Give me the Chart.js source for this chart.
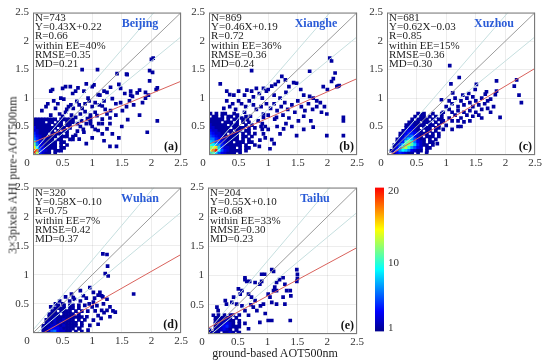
<!DOCTYPE html>
<html>
<head>
<meta charset="utf-8">
<script src="https://cdn.jsdelivr.net/npm/chart.js@4.4.1/dist/chart.umd.min.js"></script>
<style>
  body { margin: 0; background: #fff; width: 550px; height: 363px; position: relative; overflow: hidden; font-family: "Liberation Serif", serif; color: #222; }
  canvas { position: absolute; }
  .title { position: absolute; white-space: nowrap; font-size: 12px; }
</style>
</head>
<body>
<canvas id="pa"></canvas>
<canvas id="pb"></canvas>
<canvas id="pc"></canvas>
<canvas id="pd"></canvas>
<canvas id="pe"></canvas>
<canvas id="cbar"></canvas>
<div class="title" style="left:13px;top:175px;transform:translate(-50%,-50%) rotate(-90deg)">3×3pixels AHI pure-AOT500nm</div>
<div class="title" style="left:275px;top:353px;transform:translate(-50%,-50%)">ground-based AOT500nm</div>
<script>
// ---- data ----
const sites = ['Beijing', 'Xianghe', 'Xuzhou', 'Wuhan', 'Taihu'];
const tags = ['(a)', '(b)', '(c)', '(d)', '(e)'];
const nVals = [743, 869, 681, 320, 204];
const slopes = [0.43, 0.46, 0.62, 0.58, 0.55];
const intercepts = [0.22, 0.19, -0.03, -0.10, 0.10];
const rVals = ['0.66', '0.72', '0.85', '0.75', '0.68'];
const eeVals = [40, 36, 15, 7, 33];
const rmseVals = ['0.35', '0.36', '0.36', '0.42', '0.30'];
const mdVals = ['0.21', '0.24', '0.30', '0.37', '0.23'];
const axisTicks = [0, 0.5, 1, 1.5, 2, 2.5];
const cbarTicks = [1, 10, 20];
const CB_MIN = 0.5, CB_MAX = 20.5;
const EE_UP = [1.2, 0.05];   // upper expected-error envelope: slope, offset
const EE_LO = [0.85, -0.05]; // lower envelope

// dense cells: rows top -> bottom, columns from x=0.025 in 0.05 bins, char = count (base 36)
const GRID_X0 = 0.025, GRID_Y0 = 0.025, GRID_STEP = 0.05;
const gridA = [
  '11111111.11111',
  '1111.11.11.111',
  '111111.111.11.',
  '31111111.11.1.',
  '2211111.1.11..',
  '42111.1111.1..',
  '53211111.111.1',
  '6421111.11..11',
  'a5321111.11...',
  'c6321111.1.1..',
  'f9431111.11...',
  'ji5321.111....',
  'kd4211.1......'
];
const gridB = [
  '1.1.11..1.......',
  '.11.1.11.1..1...',
  '11111.1.11.1....',
  '1111.111.1.1.1..',
  '211111.111..1.1.',
  '2211111.1111.1.1',
  '32211111.11.11..',
  '432211.111.1.1.1',
  '5432211111.11.1.',
  '6643221111.1.1..',
  '87543211.111.11.',
  'a9764211111.1..1',
  'cdf842211.1.11..',
  'ehk95321111.1...',
  '9b8532111.1.....'
];
const gridC = [
  '..........1.1..1..1..',
  '.........1.11.1.1.1..',
  '........1.1111.1.11..',
  '.......1111.111.1.1..',
  '......1121111.11.1...',
  '......12221.111.11...',
  '.....1233211.11.1....',
  '....1134432111.1.1...',
  '....12456321.111.1...',
  '...1236875211.1.1....',
  '...124aca6321.11.....',
  '..1258cdb84211.1.....',
  '..136bda7532.11......',
  '.12479863211.1.......',
  '..1343211.1..........'
];
const gridD = [
  '........1.1.11.1.1.',
  '.......1111.11.1...',
  '......11.1111.1.1.1',
  '.....1111.1111.1...',
  '.....111111111111..',
  '....1112112111.1.1.',
  '....12121211111.1..',
  '...111222121111.1..',
  '...11233321111.1...',
  '...1125632211.1.1..'
];
const gridE = [
  '...1.1.11.1.',
  '..111111.1..',
  '..1111211.1.',
  '..1112321.1.',
  '..112342111.',
  '1.112321.1..',
  '1111.1121.1.'
];

// single points (count 1)
const sparseA = [
  [0.83,1.50],[1.09,1.50],[2.00,1.68],[2.03,1.70],[2.02,1.45],[1.97,1.30],[1.58,1.42],[2.10,1.18],[2.08,1.15],[1.97,1.48],
  [0.30,1.12],[0.33,1.15],[0.50,1.17],[0.55,1.20],[0.63,1.20],[0.67,1.08],[0.72,1.12],[1.00,1.20],[0.86,1.12],[1.31,1.19],
  [1.45,1.24],[1.59,1.41],[1.10,1.06],[1.13,1.05],[1.48,1.17],[1.65,1.05],[1.68,1.03],[1.65,1.12],[1.76,1.09],[1.95,1.05],
  [1.80,1.14],[1.34,0.99],[0.47,1.00],[0.52,0.98],[0.93,1.00],[1.25,1.10],[1.55,1.08],[1.90,1.10],[1.03,1.23],[0.76,1.18],
  [1.42,1.43],[1.20,1.12],[0.90,1.25],
  [0.22,0.85],[0.25,0.90],[0.38,0.82],[0.42,0.90],[0.57,0.80],[0.60,0.85],[0.64,0.88],[0.68,0.82],[0.74,0.94],[0.78,0.88],
  [0.83,0.82],[0.88,0.90],[0.95,0.95],[1.00,0.85],[1.05,0.92],[1.12,0.88],[1.17,0.86],[1.22,0.80],[1.31,0.78],[1.40,0.90],
  [1.48,0.92],[1.51,0.78],[1.58,0.85],[1.63,0.95],[1.70,0.88],[1.85,0.92],[1.90,1.00],[1.20,0.95],[0.45,0.72],[0.50,0.68],
  [0.55,0.75],[0.65,0.70],[0.72,0.66],[0.80,0.72],[0.97,0.70],[0.97,0.66],[0.97,0.62],[1.08,0.69],[1.17,0.63],[1.30,0.65],
  [1.40,0.70],[1.60,0.62],[1.80,0.70],[0.35,0.95],[0.15,0.78],[0.30,0.70],[0.88,0.76],[0.92,0.64],[1.05,0.75],[1.25,0.72],
  [0.75,0.55],[0.80,0.50],[0.85,0.45],[0.86,0.40],[0.90,0.55],[0.97,0.58],[0.97,0.55],[1.00,0.50],[1.05,0.45],[1.10,0.43],
  [1.11,0.55],[1.17,0.55],[1.17,0.37],[1.25,0.46],[1.34,0.37],[1.30,0.15],[1.41,0.15],[1.93,0.40],[2.10,0.60],[0.72,0.35],
  [0.78,0.28],[0.82,0.60],[1.20,0.25],[1.00,0.30],[0.90,0.20],[1.50,0.50],[1.45,0.30],[0.75,0.42],[1.30,0.55]
];
const sparseB = [
  [0.72,1.48],[0.19,1.25],[0.30,1.12],[0.35,1.06],[2.04,1.70],[2.07,1.65],[2.13,1.44],[2.10,1.34],[2.07,1.29],[2.18,1.21],
  [2.16,1.20],[1.70,1.47],[1.23,1.38],[1.29,1.32],[1.17,1.29],[1.12,1.24],[1.06,1.21],[1.00,1.15],[1.43,1.27],[1.48,1.26],
  [1.35,1.20],[0.64,1.14],[0.72,1.12],[0.80,1.17],[0.92,1.17],[0.97,1.12],[0.60,1.05],[0.75,1.02],[0.85,1.08],[0.90,1.00],
  [1.30,1.10],[1.55,1.15],[1.60,1.05],[1.70,1.03],[1.76,1.00],[1.82,0.95],[1.88,0.92],[1.95,0.85],[1.99,0.72],[1.93,1.20],
  [2.00,1.15],[2.20,1.22],[1.10,1.05],[0.50,1.12],[0.42,1.05],
  [0.50,0.95],[0.55,0.90],[0.62,0.85],[0.68,0.95],[0.75,0.88],[0.80,0.80],[0.88,0.85],[0.92,0.72],[0.97,0.90],[1.04,0.82],
  [1.10,0.90],[1.15,0.78],[1.22,0.85],[1.28,0.92],[1.33,0.80],[1.40,0.88],[1.45,0.75],[1.50,0.95],[1.56,0.85],[1.62,0.78],
  [1.68,0.90],[1.75,0.80],[1.82,0.85],[1.90,0.75],[1.11,0.63],[1.14,0.66],[0.83,0.60],[0.92,0.66],[1.00,0.70],[1.25,0.70],
  [1.35,0.65],[1.51,0.60],[1.60,0.68],[1.72,0.60],[2.27,0.60],[2.27,0.66],[0.45,0.80],[0.48,0.70],[0.60,0.75],[0.70,0.68],
  [0.35,0.85],[0.40,0.90],[0.25,0.82],[0.30,0.95],[1.20,1.00],[0.55,0.65],[0.65,0.62],
  [0.90,0.55],[0.95,0.50],[1.00,0.45],[0.92,0.37],[0.86,0.26],[1.20,0.37],[1.26,0.46],[1.06,0.27],[1.03,0.11],[1.48,0.34],
  [1.76,0.49],[1.99,0.34],[2.27,0.34],[1.30,0.55],[1.40,0.50],[1.15,0.50],[0.85,0.15],[0.90,0.45],[1.60,0.45],[1.10,0.20],
  [0.95,0.30],[0.88,0.50]
];
const sparseC = [
  [1.06,1.57],[1.22,1.36],[1.08,1.25],[1.11,1.09],[0.92,0.97],[1.85,1.30],[2.19,1.32],[2.15,1.21],[2.23,1.05],[2.27,0.92],
  [1.91,0.66],[1.83,1.06],[1.85,1.12],[1.66,1.07],[1.68,1.11],[1.49,1.15],[1.51,1.24],[0.59,0.71],
  [1.05,0.95],[1.10,0.90],[1.15,1.00],[1.20,0.85],[1.25,0.95],[1.30,0.88],[1.35,1.00],[1.40,0.92],[1.45,0.85],[1.50,0.95],
  [1.55,0.88],[1.60,0.80],[1.65,0.90],[1.70,0.82],[1.75,0.75],[1.80,0.85],[1.05,0.80],[1.10,0.75],[1.15,0.70],[1.20,0.78],
  [1.25,0.65],[1.30,0.75],[1.35,0.70],[1.40,0.78],[1.45,0.68],[1.50,0.75],[1.55,0.70],[1.60,0.65],[1.30,0.58],[1.20,0.60],
  [1.40,0.60],[1.00,0.85],[1.05,0.65],[0.95,0.75],[0.95,0.60],[1.10,0.60],[1.28,1.05],[1.38,1.08],[1.60,1.00],[1.70,0.95],
  [1.75,0.98],[1.45,1.02],[0.67,0.03],[1.10,0.45],[1.25,0.50],[0.85,0.20],[1.20,0.50],[1.00,0.52],[0.95,0.45]
];
const sparseD = [
  [1.18,1.36],[1.25,1.35],[1.26,1.15],[1.22,1.02],[1.27,0.98],[0.96,0.78],[1.02,0.70],[1.70,0.67],[1.39,0.36],[0.65,0.67],
  [0.68,0.61],[0.80,0.73],[0.85,0.64],[1.13,0.70],[1.16,0.64],[1.02,0.53],[1.08,0.47],[1.19,0.50],[1.25,0.39],[1.16,0.39],
  [0.91,0.28],[0.96,0.13],[0.79,0.08],[1.04,0.60],[1.10,0.65],[1.18,0.62],[0.62,0.55],[0.70,0.58],[0.80,0.55],[0.90,0.60],
  [0.95,0.50],[1.00,0.45],[1.05,0.38],[1.10,0.30],[1.15,0.25],[1.20,0.35],[1.30,0.28],[1.35,0.38],[1.02,0.22],[1.10,0.15],
  [0.55,0.62],[0.45,0.55],[0.50,0.50],[0.38,0.50],[0.30,0.45],[1.30,0.45],[1.25,0.58],[0.93,0.05]
];
const sparseE = [
  [1.07,1.10],[1.10,1.07],[0.90,1.02],[0.95,1.02],[0.62,0.93],[0.65,0.90],[0.79,0.88],[1.15,0.88],[1.20,0.93],[1.26,0.96],
  [1.49,1.10],[1.50,1.02],[1.50,0.95],[1.49,0.90],[1.12,0.80],[1.10,0.74],[1.15,0.74],[1.29,0.85],[1.32,0.74],[1.01,0.68],
  [1.04,0.63],[0.51,0.77],[0.57,0.74],[0.54,0.68],[0.68,0.68],[0.73,0.63],[0.43,0.63],[0.40,0.54],[0.48,0.51],[0.57,0.48],
  [0.79,0.57],[0.88,0.48],[0.93,0.51],[1.07,0.54],[1.15,0.51],[1.38,0.74],[1.39,0.65],[1.26,0.63],[1.29,0.51],[1.01,0.23],
  [1.07,0.23],[0.87,0.20],[1.38,0.23],[0.96,0.35],[0.76,0.46],[0.68,0.32],[0.15,0.46],[0.17,0.40],[0.09,0.32],[0.29,0.57],
  [0.31,0.51],[0.62,0.18],[0.68,0.09],[0.48,0.07],[0.51,0.02],[0.62,0.96],[0.70,0.90],[0.87,0.85],[0.90,0.90],[0.82,0.40],
  [0.62,0.40],[0.72,0.50]
];
const grids = [gridA, gridB, gridC, gridD, gridE];
const sparse = [sparseA, sparseB, sparseC, sparseD, sparseE];

// ---- layout ----
const FONT = '"Liberation Serif", "Times New Roman", serif';
const PAD_L = 30, PAD_T = 8, PAD_R = 12, PAD_B = 18;
const boxes = [
  { id: 'pa', l: 33, t: 10, w: 148, h: 145 },
  { id: 'pb', l: 209, t: 10, w: 148, h: 145 },
  { id: 'pc', l: 387, t: 10, w: 148, h: 145 },
  { id: 'pd', l: 33, t: 185, w: 148, h: 148 },
  { id: 'pe', l: 208, t: 185, w: 149, h: 149 }
];
const cbarBox = { l: 375, t: 185, w: 9, h: 149 };

// jet-like colormap ending at red
const CMAP = [[0, 0, 0, 140], [0.14, 0, 0, 255], [0.43, 0, 255, 255], [0.71, 255, 255, 0], [1, 255, 0, 0]];
function jet(v) {
  v = Math.max(0, Math.min(1, v));
  for (let i = 1; i < CMAP.length; i++) {
    if (v <= CMAP[i][0]) {
      const a = CMAP[i - 1], b = CMAP[i];
      const f = (v - a[0]) / (b[0] - a[0]);
      const c = [1, 2, 3].map(k => Math.round(a[k] + (b[k] - a[k]) * f));
      return `rgb(${c[0]},${c[1]},${c[2]})`;
    }
  }
  return 'rgb(255,0,0)';
}
const countColor = c => jet((c - CB_MIN) / (CB_MAX - CB_MIN));

function cellsFromGrid(rows) {
  const out = [];
  rows.forEach((row, r) => {
    const y = GRID_Y0 + GRID_STEP * (rows.length - 1 - r);
    [...row].forEach((ch, col) => {
      if (ch !== '.') out.push({ x: GRID_X0 + GRID_STEP * col, y, c: parseInt(ch, 36) });
    });
  });
  return out;
}

const axMax = axisTicks[axisTicks.length - 1];
const lineThrough = (m, b) => [{ x: 0, y: b }, { x: axMax, y: m * axMax + b }];
const fmt2 = v => v.toFixed(2);

// frame, stats text, site name and panel tag
const panelDecor = {
  id: 'panelDecor',
  afterDatasetsDraw(chart, args, opts) {
    const i = opts.index;
    const { ctx, chartArea: a } = chart;
    ctx.save();
    ctx.strokeStyle = '#7a7a7a';
    ctx.lineWidth = 1;
    ctx.strokeRect(a.left + 0.5, a.top + 0.5, a.right - a.left - 1, a.bottom - a.top - 1);

    const b = intercepts[i];
    const lines = [
      'N=' + nVals[i],
      'Y=' + fmt2(slopes[i]) + 'X' + (b < 0 ? '\u2212' : '+') + fmt2(Math.abs(b)),
      'R=' + rVals[i],
      'within EE=' + eeVals[i] + '%',
      'RMSE=' + rmseVals[i],
      'MD=' + mdVals[i]
    ];
    ctx.fillStyle = '#1e1e1e';
    ctx.font = '11px ' + FONT;
    ctx.textAlign = 'left';
    ctx.textBaseline = 'middle';
    lines.forEach((s, k) => ctx.fillText(s, a.left + 2, a.top + 5.5 + k * 9.2));

    ctx.font = 'bold 12px ' + FONT;
    ctx.fillStyle = '#2a5bd7';
    ctx.textAlign = 'center';
    ctx.fillText(sites[i], a.left + 107, a.top + 11);

    ctx.fillStyle = '#111';
    ctx.textAlign = 'right';
    ctx.fillText(tags[i], a.right - 3, a.bottom - 8);

    ctx.font = '11px ' + FONT;
    ctx.fillStyle = '#333';
    ctx.textAlign = 'center';
    ctx.fillText(String(axisTicks[0]), a.left - 6, a.bottom + 8.5);
    ctx.restore();
  }
};

function axisOpts(horizontal) {
  return {
    type: 'linear',
    min: axisTicks[0],
    max: axMax,
    afterBuildTicks: s => { s.ticks = axisTicks.map(v => ({ value: v })); },
    afterFit: s => { if (horizontal) s.height = PAD_B; else s.width = PAD_L; },
    ticks: {
      font: { family: FONT, size: 11 },
      color: '#333',
      padding: horizontal ? 2 : 4,
      maxRotation: 0,
      autoSkip: false,
      callback: v => (v === axisTicks[0] ? '' : String(v))
    },
    grid: { color: 'rgba(0,0,0,0.07)', drawTicks: false },
    border: { display: false }
  };
}

boxes.forEach((box, i) => {
  const canvas = document.getElementById(box.id);
  canvas.width = PAD_L + box.w + PAD_R;
  canvas.height = PAD_T + box.h + PAD_B;
  canvas.style.left = (box.l - PAD_L) + 'px';
  canvas.style.top = (box.t - PAD_T) + 'px';

  const points = cellsFromGrid(grids[i]).concat(sparse[i].map(p => ({ x: p[0], y: p[1], c: 1 })));
  const lineDs = (data, color) => ({ data, showLine: true, pointRadius: 0, borderColor: color, borderWidth: 1, fill: false });

  new Chart(canvas, {
    type: 'scatter',
    data: {
      datasets: [
        lineDs(lineThrough(slopes[i], intercepts[i]), '#d9625c'),
        lineDs(lineThrough(1, 0), '#9c9c9c'),
        lineDs(lineThrough(EE_UP[0], EE_UP[1]), '#c6dfdf'),
        lineDs(lineThrough(EE_LO[0], EE_LO[1]), '#c6dfdf'),
        {
          data: points,
          pointStyle: 'rect',
          pointRadius: 2.6,
          borderWidth: 0,
          backgroundColor: points.map(p => countColor(p.c))
        }
      ]
    },
    options: {
      responsive: false,
      animation: false,
      devicePixelRatio: 1,
      events: [],
      layout: { padding: { left: 0, top: PAD_T, right: PAD_R, bottom: 0 } },
      plugins: { legend: { display: false }, tooltip: { enabled: false }, panelDecor: { index: i } },
      scales: { x: axisOpts(true), y: axisOpts(false) }
    },
    plugins: [panelDecor]
  });
});

// ---- colour bar ----
(function () {
  const canvas = document.getElementById('cbar');
  const padV = 8, axisW = 30;
  canvas.width = cbarBox.w + axisW;
  canvas.height = cbarBox.h + 2 * padV;
  canvas.style.left = cbarBox.l + 'px';
  canvas.style.top = (cbarBox.t - padV) + 'px';
  new Chart(canvas, {
    type: 'bar',
    data: {
      labels: [''],
      datasets: [{
        data: [[CB_MIN, CB_MAX]],
        barPercentage: 1,
        categoryPercentage: 1,
        borderWidth: 0,
        backgroundColor: ctx => {
          const a = ctx.chart.chartArea;
          if (!a) return '#00f';
          const g = ctx.chart.ctx.createLinearGradient(0, a.bottom, 0, a.top);
          CMAP.forEach(s => g.addColorStop(s[0], `rgb(${s[1]},${s[2]},${s[3]})`));
          return g;
        }
      }]
    },
    options: {
      responsive: false,
      animation: false,
      devicePixelRatio: 1,
      events: [],
      layout: { padding: { left: 0, right: 0, top: padV, bottom: padV } },
      plugins: { legend: { display: false }, tooltip: { enabled: false } },
      scales: {
        x: { display: false },
        y: {
          position: 'right',
          min: CB_MIN,
          max: CB_MAX,
          afterBuildTicks: s => { s.ticks = cbarTicks.map(v => ({ value: v })); },
          afterFit: s => { s.width = axisW; },
          ticks: { font: { family: FONT, size: 11 }, color: '#333', padding: 4 },
          grid: { display: false, drawTicks: false },
          border: { display: false }
        }
      }
    }
  });
})();
</script>
</body>
</html>
